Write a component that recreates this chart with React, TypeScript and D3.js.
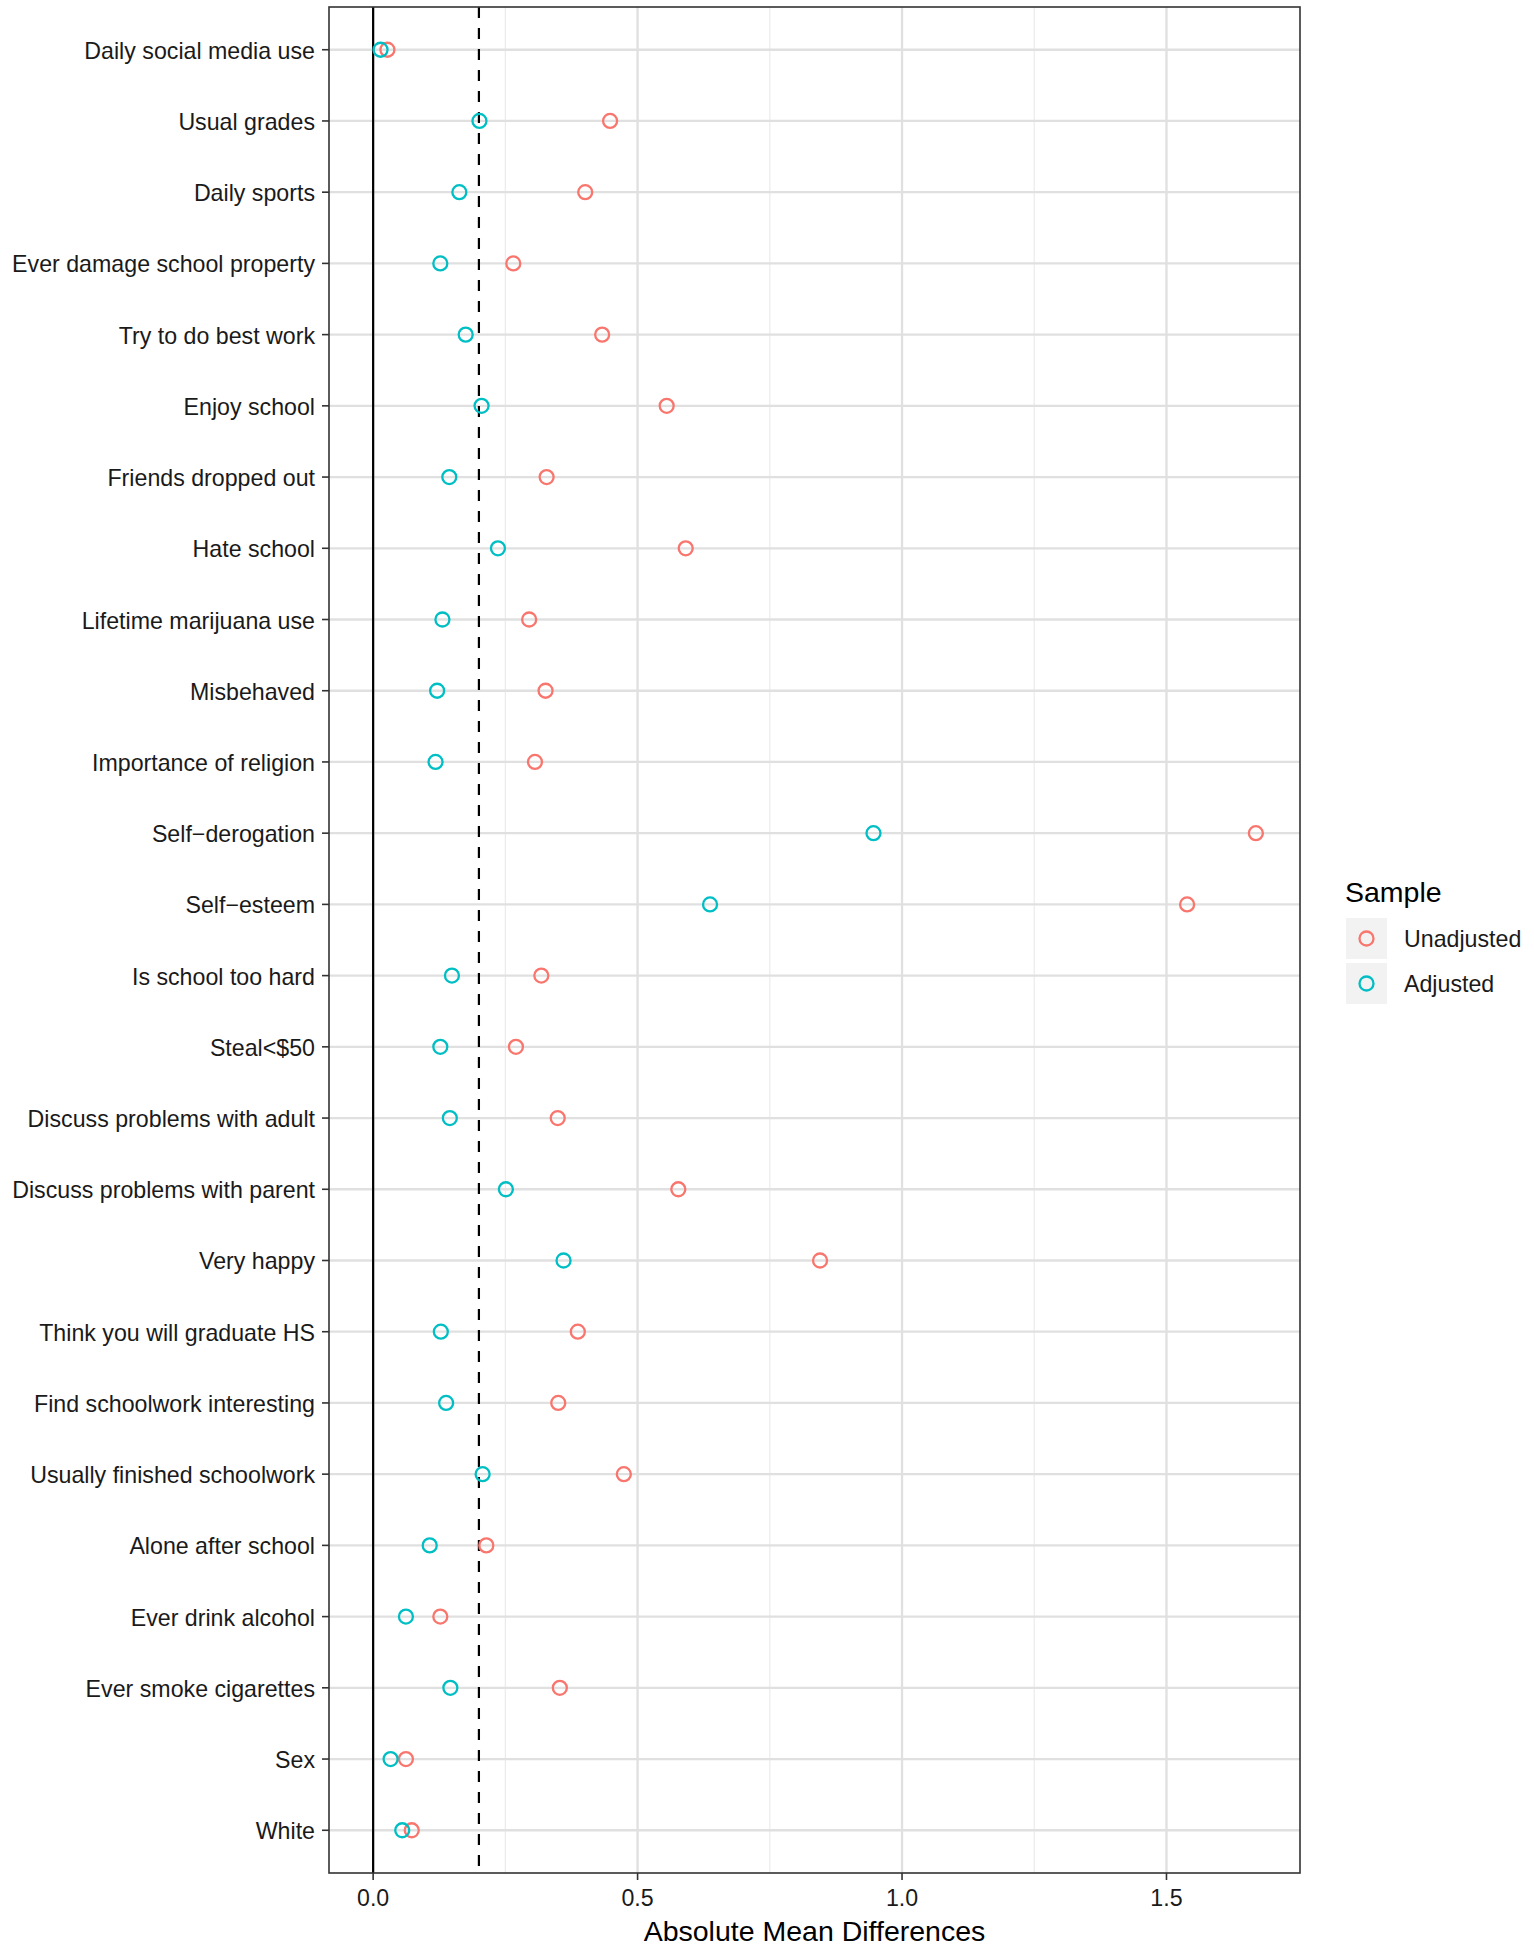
import React from "react";
import * as d3 from "d3";

const categories = [
  "Daily social media use",
  "Usual grades",
  "Daily sports",
  "Ever damage school property",
  "Try to do best work",
  "Enjoy school",
  "Friends dropped out",
  "Hate school",
  "Lifetime marijuana use",
  "Misbehaved",
  "Importance of religion",
  "Self\u2212derogation",
  "Self\u2212esteem",
  "Is school too hard",
  "Steal<$50",
  "Discuss problems with adult",
  "Discuss problems with parent",
  "Very happy",
  "Think you will graduate HS",
  "Find schoolwork interesting",
  "Usually finished schoolwork",
  "Alone after school",
  "Ever drink alcohol",
  "Ever smoke cigarettes",
  "Sex",
  "White",
];

const unadjusted = [
  0.027, 0.448, 0.401, 0.265, 0.433, 0.555, 0.328, 0.591, 0.295, 0.326, 0.306,
  1.669, 1.539, 0.318, 0.27, 0.349, 0.577, 0.845, 0.387, 0.35, 0.474, 0.214,
  0.127, 0.353, 0.062, 0.073,
];

const adjusted = [
  0.014, 0.201, 0.163, 0.127, 0.175, 0.205, 0.144, 0.236, 0.131, 0.121, 0.118,
  0.946, 0.637, 0.149, 0.127, 0.145, 0.251, 0.36, 0.128, 0.138, 0.207, 0.107,
  0.062, 0.146, 0.033, 0.055,
];

const xTicks = [0, 0.5, 1.0, 1.5];
const xMinor = [0.25, 0.75, 1.25];
const threshold = 0.2;

const seriesNames = ["Unadjusted", "Adjusted"];
const seriesColors = ["#F8766D", "#00BFC4"];

const W = 1534;
const H = 1950;
const panel = { left: 329, top: 7, right: 1300, bottom: 1873 };

export default function App() {
  const maxV = d3.max([...unadjusted, ...adjusted]) as number;
  const minV = 0;
  const pad = (maxV - minV) * 0.05;
  const x = d3
    .scaleLinear()
    .domain([minV - pad, maxV + pad])
    .range([panel.left, panel.right]);
  const y = d3
    .scalePoint<string>()
    .domain(categories)
    .range([panel.top, panel.bottom])
    .padding(0.6);

  const font = "'Liberation Sans', Arial, Helvetica, sans-serif";
  const series = [unadjusted, adjusted];
  const small = 23.2;
  const big = 28.5;

  return (
    <svg
      width={W}
      height={H}
      style={{ position: "absolute", left: 0, top: 0, background: "#fff" }}
      fontFamily={font}
    >
      <rect x={0} y={0} width={W} height={H} fill="#fff" />
      {xMinor.map((t) => (
        <line
          key={"mn" + t}
          x1={x(t)}
          x2={x(t)}
          y1={panel.top}
          y2={panel.bottom}
          stroke="#EBEBEB"
          strokeWidth={1.2}
        />
      ))}
      {xTicks.map((t) => (
        <line
          key={"mj" + t}
          x1={x(t)}
          x2={x(t)}
          y1={panel.top}
          y2={panel.bottom}
          stroke="#E0E0E0"
          strokeWidth={2.3}
        />
      ))}
      {categories.map((c) => (
        <line
          key={"hg" + c}
          x1={panel.left}
          x2={panel.right}
          y1={y(c)}
          y2={y(c)}
          stroke="#E0E0E0"
          strokeWidth={2.3}
        />
      ))}
      <line
        x1={x(0)}
        x2={x(0)}
        y1={panel.top}
        y2={panel.bottom}
        stroke="#000"
        strokeWidth={2.2}
      />
      <line
        x1={x(threshold)}
        x2={x(threshold)}
        y1={panel.top}
        y2={panel.bottom}
        stroke="#000"
        strokeWidth={2.2}
        strokeDasharray="11 10"
      />
      {series.map((vals, si) =>
        vals.map((v, i) => (
          <circle
            key={si + "-" + i}
            cx={x(v)}
            cy={y(categories[i])}
            r={7}
            fill="none"
            stroke={seriesColors[si]}
            strokeWidth={2.3}
          />
        ))
      )}
      <rect
        x={panel.left}
        y={panel.top}
        width={panel.right - panel.left}
        height={panel.bottom - panel.top}
        fill="none"
        stroke="#333"
        strokeWidth={1.6}
      />
      {categories.map((c) => (
        <g key={"yl" + c}>
          <line
            x1={panel.left - 7}
            x2={panel.left}
            y1={y(c)}
            y2={y(c)}
            stroke="#333"
            strokeWidth={1.6}
          />
          <text
            x={panel.left - 14}
            y={(y(c) as number) + 1}
            textAnchor="end"
            dominantBaseline="central"
            fontSize={small}
            fill="#1a1a1a"
          >
            {c}
          </text>
        </g>
      ))}
      {xTicks.map((t) => (
        <g key={"xt" + t}>
          <line
            x1={x(t)}
            x2={x(t)}
            y1={panel.bottom}
            y2={panel.bottom + 7}
            stroke="#333"
            strokeWidth={1.6}
          />
          <text
            x={x(t)}
            y={panel.bottom + 25}
            textAnchor="middle"
            dominantBaseline="central"
            fontSize={small}
            fill="#1a1a1a"
          >
            {t.toFixed(1)}
          </text>
        </g>
      ))}
      <text
        x={(panel.left + panel.right) / 2}
        y={1931}
        textAnchor="middle"
        dominantBaseline="central"
        fontSize={big}
        fill="#000"
      >
        Absolute Mean Differences
      </text>
      <text x={1345} y={892} dominantBaseline="central" fontSize={big} fill="#000">
        Sample
      </text>
      {seriesNames.map((n, i) => {
        const ky = 918 + i * 45;
        return (
          <g key={"lg" + n}>
            <rect x={1346} y={ky} width={41} height={41} fill="#F2F2F2" />
            <circle
              cx={1366.5}
              cy={ky + 20.5}
              r={7}
              fill="none"
              stroke={seriesColors[i]}
              strokeWidth={2.3}
            />
            <text
              x={1404}
              y={ky + 21}
              dominantBaseline="central"
              fontSize={small}
              fill="#1a1a1a"
            >
              {n}
            </text>
          </g>
        );
      })}
    </svg>
  );
}
